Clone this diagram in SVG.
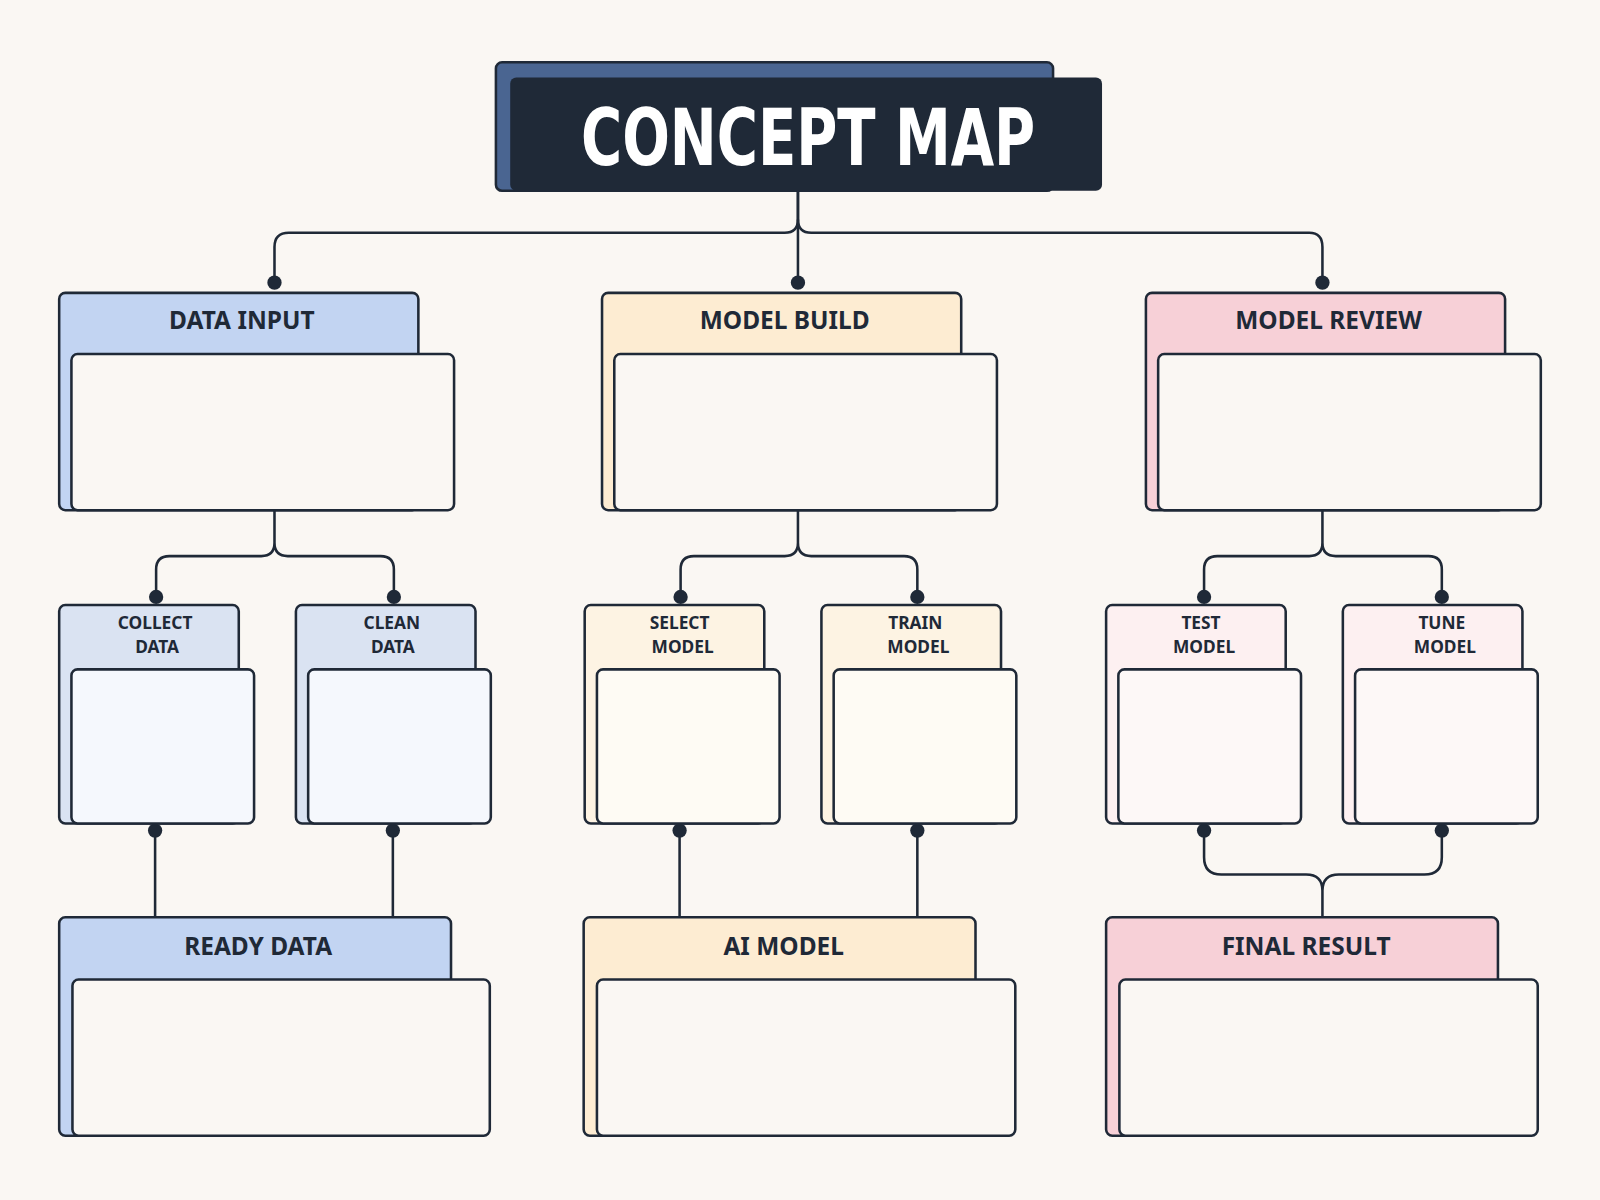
<svg xmlns="http://www.w3.org/2000/svg" width="1600" height="1200" viewBox="0 0 1600 1200">
<style>
.b{stroke:#1f2937;stroke-width:2.5}
.f{fill:#faf7f3}
.t{font-family:"Noto Sans","Liberation Sans",sans-serif;font-weight:700;fill:#1f2937;text-anchor:middle}
.L{font-size:24px}
.S{font-size:17px}
.c{fill:none;stroke:#1f2937;stroke-width:2.5}
.d{fill:#1f2937}
</style>
<rect width="1600" height="1200" fill="#faf7f3"/>
<g transform="scale(1.0204)">
<g id="title">
<rect x="486" y="61" width="546" height="126" rx="6" fill="#4a6591" class="b"/>
<rect x="500" y="76" width="580" height="111" rx="6" fill="#1f2937"/>
<text x="792" y="162" font-family="'DejaVu Sans Condensed','DejaVu Sans',sans-serif" font-weight="700" font-size="76" fill="#fff" text-anchor="middle" textLength="445" lengthAdjust="spacingAndGlyphs">CONCEPT MAP</text>
</g>
<g id="connectors">
<path class="c" d="M782,188 V215 Q782,228 769,228 H283 Q269,228 269,242 V277"/>
<path class="c" d="M782,188 V277"/>
<path class="c" d="M782,215 Q782,228 795,228 H1283 Q1296,228 1296,242 V277"/>
<path class="c" d="M269,500 V532 Q269,545 256,545 H166 Q153,545 153,558 V585 M269,532 Q269,545 282,545 H373 Q386,545 386,558 V585"/>
<path class="c" d="M782,500 V532 Q782,545 769,545 H680 Q667,545 667,558 V585 M782,532 Q782,545 795,545 H886 Q899,545 899,558 V585"/>
<path class="c" d="M1296,500 V532 Q1296,545 1283,545 H1193 Q1180,545 1180,558 V585 M1296,532 Q1296,545 1309,545 H1400 Q1413,545 1413,558 V585"/>
<path class="c" d="M152,814 V899 M385,814 V899 M666,814 V899 M899,814 V899"/>
<path class="c" d="M1180,814 V840 Q1180,857 1197,857 H1280 Q1296,857 1296,873 V899 M1413,814 V840 Q1413,857 1396,857 H1312 Q1296,857 1296,873"/>
<g class="d">
<circle cx="269" cy="277" r="7"/><circle cx="782" cy="277" r="7"/><circle cx="1296" cy="277" r="7"/>
<circle cx="153" cy="585" r="7"/><circle cx="386" cy="585" r="7"/><circle cx="667" cy="585" r="7"/><circle cx="899" cy="585" r="7"/><circle cx="1180" cy="585" r="7"/><circle cx="1413" cy="585" r="7"/>
<circle cx="152" cy="814" r="7"/><circle cx="385" cy="814" r="7"/><circle cx="666" cy="814" r="7"/><circle cx="899" cy="814" r="7"/><circle cx="1180" cy="814" r="7"/><circle cx="1413" cy="814" r="7"/>
</g>
</g>
<g id="data-input"><rect x="58" y="287" width="352" height="213" rx="6" fill="#c2d4f2" class="b"/><rect x="70" y="347" width="375" height="153" rx="6" class="b f"/><text class="t L" x="237" y="322">DATA INPUT</text></g>
<g id="model-build"><rect x="590" y="287" width="352" height="213" rx="6" fill="#fdecd2" class="b"/><rect x="602" y="347" width="375" height="153" rx="6" class="b f"/><text class="t L" x="769" y="322">MODEL BUILD</text></g>
<g id="model-review"><rect x="1123" y="287" width="352" height="213" rx="6" fill="#f7d0d7" class="b"/><rect x="1135" y="347" width="375" height="153" rx="6" class="b f"/><text class="t L" x="1302" y="322">MODEL REVIEW</text></g>

<g id="collect-data"><rect x="58" y="593" width="176" height="214" rx="6" fill="#dae3f2" class="b"/><rect x="70" y="656" width="179" height="151" rx="6" fill="#f5f8fd" class="b"/><text class="t S" x="152" y="616">COLLECT</text><text class="t S" x="154" y="640">DATA</text></g>
<g id="clean-data"><rect x="290" y="593" width="176" height="214" rx="6" fill="#dae3f2" class="b"/><rect x="302" y="656" width="179" height="151" rx="6" fill="#f5f8fd" class="b"/><text class="t S" x="384" y="616">CLEAN</text><text class="t S" x="385" y="640">DATA</text></g>
<g id="select-model"><rect x="573" y="593" width="176" height="214" rx="6" fill="#fdf3e3" class="b"/><rect x="585" y="656" width="179" height="151" rx="6" fill="#fefbf4" class="b"/><text class="t S" x="666" y="616">SELECT</text><text class="t S" x="669" y="640">MODEL</text></g>
<g id="train-model"><rect x="805" y="593" width="176" height="214" rx="6" fill="#fdf3e3" class="b"/><rect x="817" y="656" width="179" height="151" rx="6" fill="#fefbf4" class="b"/><text class="t S" x="897" y="616">TRAIN</text><text class="t S" x="900" y="640">MODEL</text></g>
<g id="test-model"><rect x="1084" y="593" width="176" height="214" rx="6" fill="#fdf0f1" class="b"/><rect x="1096" y="656" width="179" height="151" rx="6" fill="#fdf8f7" class="b"/><text class="t S" x="1177" y="616">TEST</text><text class="t S" x="1180" y="640">MODEL</text></g>
<g id="tune-model"><rect x="1316" y="593" width="176" height="214" rx="6" fill="#fdf0f1" class="b"/><rect x="1328" y="656" width="179" height="151" rx="6" fill="#fdf8f7" class="b"/><text class="t S" x="1413" y="616">TUNE</text><text class="t S" x="1416" y="640">MODEL</text></g>

<g id="ready-data"><rect x="58" y="899" width="384" height="214" rx="6" fill="#c2d4f2" class="b"/><rect x="71" y="960" width="409" height="153" rx="6" class="b f"/><text class="t L" x="253" y="936">READY DATA</text></g>
<g id="ai-model"><rect x="572" y="899" width="384" height="214" rx="6" fill="#fdecd2" class="b"/><rect x="585" y="960" width="410" height="153" rx="6" class="b f"/><text class="t L" x="768" y="936">AI MODEL</text></g>
<g id="final-result"><rect x="1084" y="899" width="384" height="214" rx="6" fill="#f7d0d7" class="b"/><rect x="1097" y="960" width="410" height="153" rx="6" class="b f"/><text class="t L" x="1280" y="936">FINAL RESULT</text></g>
</g>
</svg>
